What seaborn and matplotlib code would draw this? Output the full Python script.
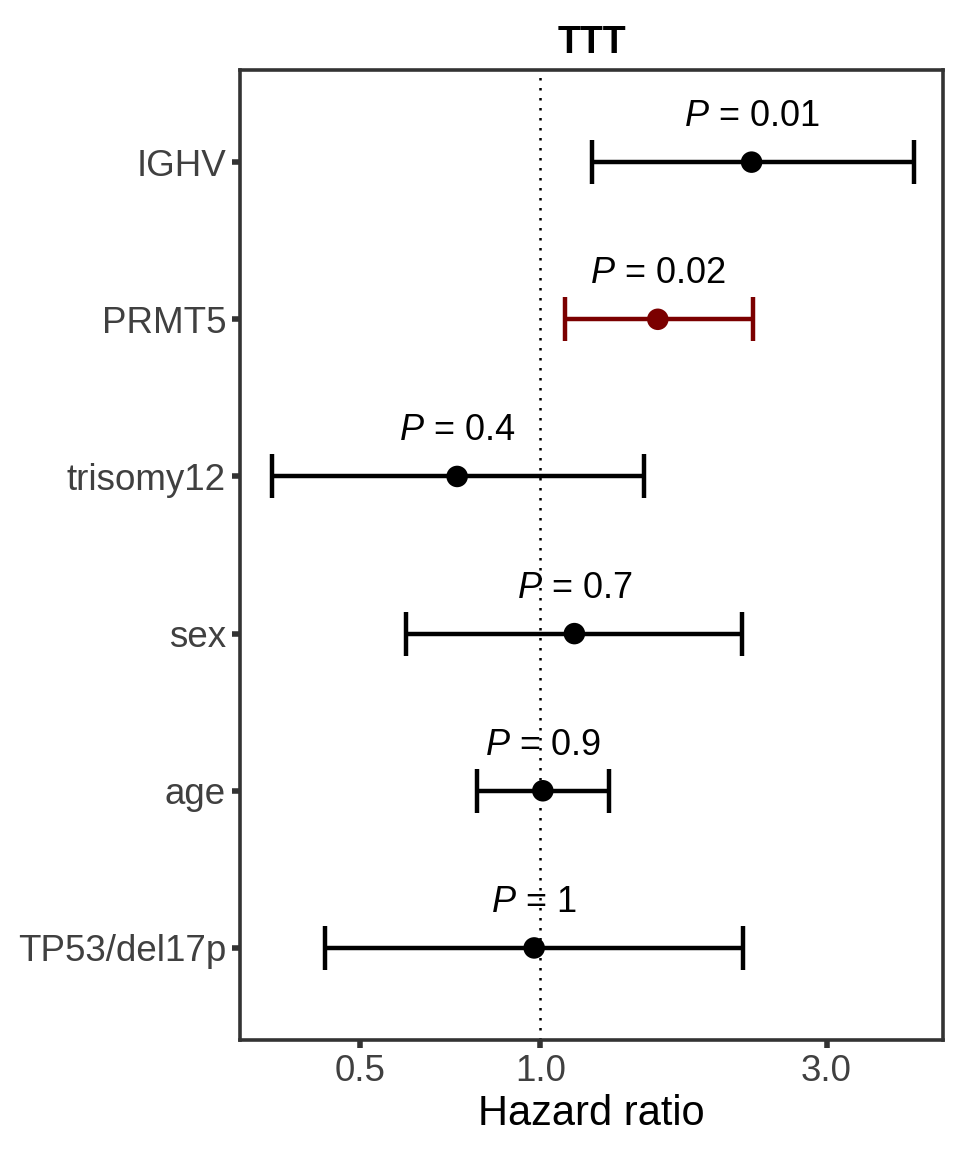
import matplotlib
matplotlib.use("Agg")
import matplotlib.pyplot as plt
import seaborn as sns
import pandas as pd
import numpy as np

# values
variables = ["IGHV", "PRMT5", "trisomy12", "sex", "age", "TP53/del17p"]
hr = [2.25, 1.57, 0.727, 1.14, 1.01, 0.977]
lower = [1.22, 1.10, 0.357, 0.598, 0.785, 0.438]
upper = [4.19, 2.26, 1.49, 2.17, 1.30, 2.18]
pvals = ["0.01", "0.02", "0.4", "0.7", "0.9", "1"]
highlight = "PRMT5"

df = pd.DataFrame({"var": variables, "hr": hr, "lo": lower, "hi": upper, "p": pvals})
df["y"] = np.arange(len(df))[::-1]
df["col"] = np.where(df["var"] == highlight, "#7B0000", "black")

sns.set_style("white")
plt.rcParams["font.family"] = ["Liberation Sans", "DejaVu Sans"]
plt.rcParams["mathtext.fontset"] = "custom"
plt.rcParams["mathtext.it"] = "Liberation Sans:italic"
plt.rcParams["mathtext.rm"] = "Liberation Sans"

fig = plt.figure(figsize=(9.6, 11.52), dpi=100)
ax = fig.add_axes([0.25, 0.0972, 0.7323, 0.8420])

ax.axvline(1.0, color="black", ls=(0, (1, 3)), lw=1.8, zorder=1)
for _, r in df.iterrows():
    ax.errorbar(r["hr"], r["y"], xerr=[[r["hr"] - r["lo"]], [r["hi"] - r["hr"]]],
                fmt="none", ecolor=r["col"], elinewidth=3.2, capsize=16, capthick=3.2, zorder=2)
    ax.text(r["hr"], r["y"] + 0.29, r"$\it{P}$ = " + r["p"], ha="center", va="center",
            fontsize=26, color="black")
sns.scatterplot(data=df, x="hr", y="y", hue="var", palette=dict(zip(df["var"], df["col"])),
                s=240, edgecolor="none", legend=False, ax=ax, zorder=3)

ax.set_xscale("log")
ax.set_xlim(0.316, 4.69)
ax.set_ylim(-0.586, 5.586)
ax.set_xticks([0.5, 1.0, 3.0])
ax.set_xticklabels(["0.5", "1.0", "3.0"])
ax.xaxis.set_minor_locator(matplotlib.ticker.NullLocator())
ax.set_yticks(df["y"])
ax.set_yticklabels(df["var"])
ax.tick_params(axis="both", labelsize=26.5, labelcolor="#404040", color="#333333",
               length=6, width=4, direction="out", left=True, bottom=True, pad=4)
for s in ax.spines.values():
    s.set_color("#333333")
    s.set_linewidth(2.6)
ax.set_xlabel("Hazard ratio", fontsize=30, color="black", labelpad=4)
ax.set_ylabel("")
ax.set_title("TTT", fontsize=27, fontweight="bold", color="black", pad=12)

fig.savefig("out.png", dpi=100)
